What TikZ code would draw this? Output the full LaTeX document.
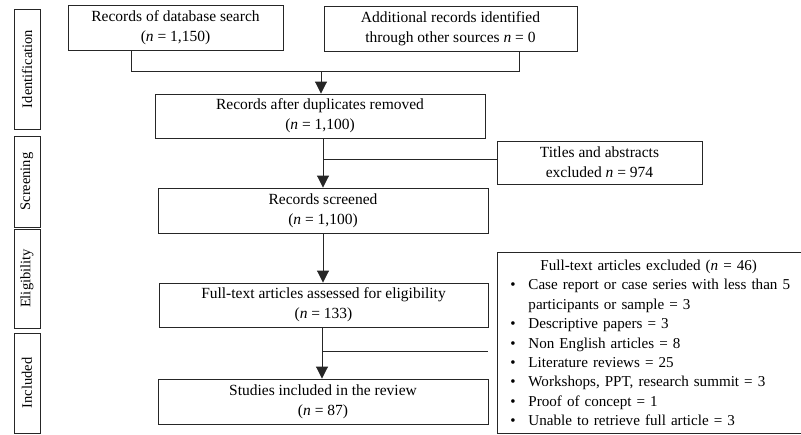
\documentclass[tikz,border=0pt]{standalone}
\usepackage{fontspec}
\setmainfont{Liberation Serif}
\usetikzlibrary{arrows.meta}
\newcommand\bitem{\hspace*{13pt}\makebox[18pt][l]{\textbullet}}
\begin{document}
\begin{tikzpicture}[x=1pt,y=-1pt,
  every node/.style={font=\fontsize{15.5}{20}\selectfont},
  box/.style={draw=black!85, line width=0.9pt, align=center, inner sep=0pt},
  sidebox/.style={draw=black!85, line width=0.9pt, inner sep=0pt, rotate=90, minimum height=26pt, font=\fontsize{14.5}{16}\selectfont},
  conn/.style={draw=black!85, line width=0.9pt},
  arr/.style={conn, -{Triangle[width=12pt,length=12pt]}}]
\useasboundingbox (0,0) rectangle (801,434);
% side labels
\node[sidebox, minimum width=120pt] (id) at (27,69) {Identification};
\node[sidebox, minimum width=91pt] (scr) at (27,181.5) {Screening};
\node[sidebox, minimum width=99pt] (eli) at (27,278.5) {Eligibility};
\node[sidebox, minimum width=100pt] (inc) at (27,383) {Included};
% main boxes
\node[box, minimum width=215pt, minimum height=45pt] (b1) at (175.5,27.5) {Records of database search\\(\textit{n} = 1,150)};
\node[box, minimum width=253pt, minimum height=45pt] (b2) at (450.5,28.5) {Additional records identified\\through other sources \textit{n} = 0};
\node[box, minimum width=330pt, minimum height=44pt] (b3) at (320,116) {Records after duplicates removed\\(\textit{n} = 1,100)};
\node[box, minimum width=330pt, minimum height=45pt] (b4) at (323,210.5) {Records screened\\(\textit{n} = 1,100)};
\node[box, minimum width=329pt, minimum height=44pt] (b5) at (323.5,305) {Full-text articles assessed for eligibility\\(\textit{n} = 133)};
\node[box, minimum width=330pt, minimum height=45pt] (b6) at (323,401.5) {Studies included in the review\\(\textit{n} = 87)};
\node[box, minimum width=205pt, minimum height=43pt] (ex1) at (599.5,162.5) {Titles and abstracts\\excluded \textit{n} = 974};
\node[draw=black!85, line width=0.9pt, anchor=north west, inner sep=0pt,
  minimum height=181pt, text width=313pt, align=left,
  font=\fontsize{15.1}{19.4}\selectfont] (ex2) at (497,252)
 {\hspace*{43pt}Full-text articles excluded (\textit{n} = 46)\\
  \bitem Case report or case series with less than 5\\
  \hspace*{31pt}participants or sample = 3\\
  \bitem Descriptive papers = 3\\
  \bitem Non English articles = 8\\
  \bitem Literature reviews = 25\\
  \bitem Workshops, PPT, research summit = 3\\
  \bitem Proof of concept = 1\\
  \bitem Unable to retrieve full article = 3};
% connectors
\coordinate (jl) at (131,71);
\coordinate (jr) at (519,71);
\coordinate (jm) at (321,71);
\draw[conn] (jl |- b1.south) -- (jl) -- (jr) -- (jr |- b2.south);
\draw[arr] (jm) -- (jm |- b3.north);
\coordinate (s1) at (323,159);
\draw[arr] (s1 |- b3.south) -- (s1 |- b4.north);
\draw[conn] (s1) -- (s1 -| ex1.west);
\draw[arr] (b4.south) -- (b4.south |- b5.north);
\coordinate (s2) at (322,351);
\coordinate (s2e) at (488,351);
\draw[arr] (s2 |- b5.south) -- (s2 |- b6.north);
\draw[conn] (s2) -- (s2e);
\end{tikzpicture}
\end{document}
